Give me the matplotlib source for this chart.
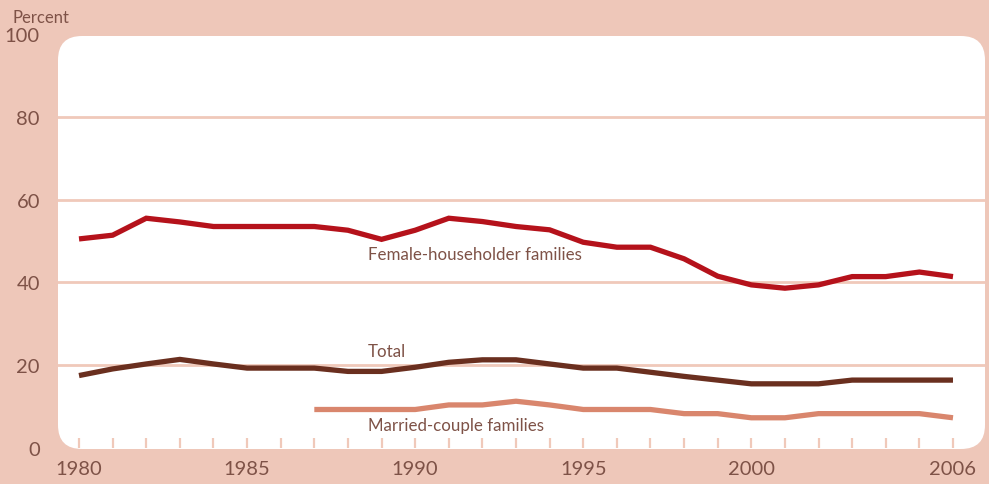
import matplotlib
matplotlib.use("Agg")
import matplotlib.pyplot as plt
from matplotlib.patches import FancyBboxPatch
from matplotlib.transforms import IdentityTransform

years = list(range(1980, 2007))
female = [50.5, 51.4, 55.5, 54.6, 53.5, 53.5, 53.5, 53.5, 52.6, 50.4, 52.6, 55.5,
          54.7, 53.5, 52.7, 49.7, 48.5, 48.5, 45.7, 41.5, 39.4, 38.6, 39.4, 41.4,
          41.4, 42.5, 41.4]
total = [17.5, 19.1, 20.3, 21.4, 20.3, 19.3, 19.3, 19.3, 18.5, 18.5, 19.5, 20.7,
         21.3, 21.3, 20.3, 19.3, 19.3, 18.3, 17.3, 16.4, 15.5, 15.5, 15.5, 16.4,
         16.4, 16.4, 16.4]
married_years = list(range(1987, 2007))
married = [9.3, 9.3, 9.3, 9.3, 10.4, 10.4, 11.3, 10.4, 9.3, 9.3, 9.3, 8.3, 8.3,
           7.3, 7.3, 8.3, 8.3, 8.3, 8.3, 7.3]
xtick_labels = {1980: "1980", 1985: "1985", 1990: "1990", 1995: "1995",
                2000: "2000", 2006: "2006"}
yticks = [0, 20, 40, 60, 80, 100]

BG = "#EEC7B9"
GRID = "#F0C9BA"
TXT = "#7E5247"
FONT = ["Lato", "DejaVu Sans"]

fig = plt.figure(figsize=(9.89, 4.85), dpi=100, facecolor=BG)

# white rounded panel in pixel coordinates
panel = FancyBboxPatch((58, 35), 927, 413,
                       boxstyle="round,pad=0,rounding_size=24",
                       transform=IdentityTransform(), facecolor="white",
                       edgecolor="none", zorder=-5)
fig.patches.append(panel)

ax = fig.add_axes([58 / 989, (485 - 449) / 485, 927 / 989, 414 / 485])
ax.set_zorder(2)
ax.patch.set_visible(False)
ax.set_xlim(1980 - 21 / 33.6, 2006 + 32 / 33.6)
ax.set_ylim(0, 100)
for s in ax.spines.values():
    s.set_visible(False)

for g in [20, 40, 60, 80]:
    ax.axhline(g, color=GRID, lw=2.0, zorder=1)

ax.plot(years, female, color="#B5121B", lw=3.8, solid_joinstyle="miter",
        solid_capstyle="butt", zorder=3)
ax.plot(years, total, color="#6A2F1F", lw=3.8, solid_joinstyle="miter",
        solid_capstyle="butt", zorder=3)
ax.plot(married_years, married, color="#D9866D", lw=3.8, solid_joinstyle="miter",
        solid_capstyle="butt", zorder=3)

ax.set_xticks(years)
ax.set_xticklabels([xtick_labels.get(y, "") for y in years])
ax.tick_params(axis="x", direction="in", length=7, width=1.6, color=GRID,
               pad=9, labelsize=14.5, labelcolor=TXT)
ax.set_yticks(yticks)
ax.set_yticklabels([str(v) for v in yticks])
ax.tick_params(axis="y", length=0, pad=13, labelsize=14.5, labelcolor=TXT)
for lab in ax.get_xticklabels() + ax.get_yticklabels():
    lab.set_family(FONT)

fig.text(12 / 989, 1 - 18 / 485, "Percent", color=TXT, fontsize=12,
         family=FONT, va="center", ha="left")

ax.text(1988.6, 46.9, "Female-householder families", color=TXT, fontsize=12.2,
        family=FONT, va="center", ha="left")
ax.text(1988.6, 23.4, "Total", color=TXT, fontsize=12.2,
        family=FONT, va="center", ha="left")
ax.text(1988.6, 5.6, "Married-couple families", color=TXT, fontsize=12.2,
        family=FONT, va="center", ha="left")

fig.savefig("out.png", dpi=100, facecolor=BG)
